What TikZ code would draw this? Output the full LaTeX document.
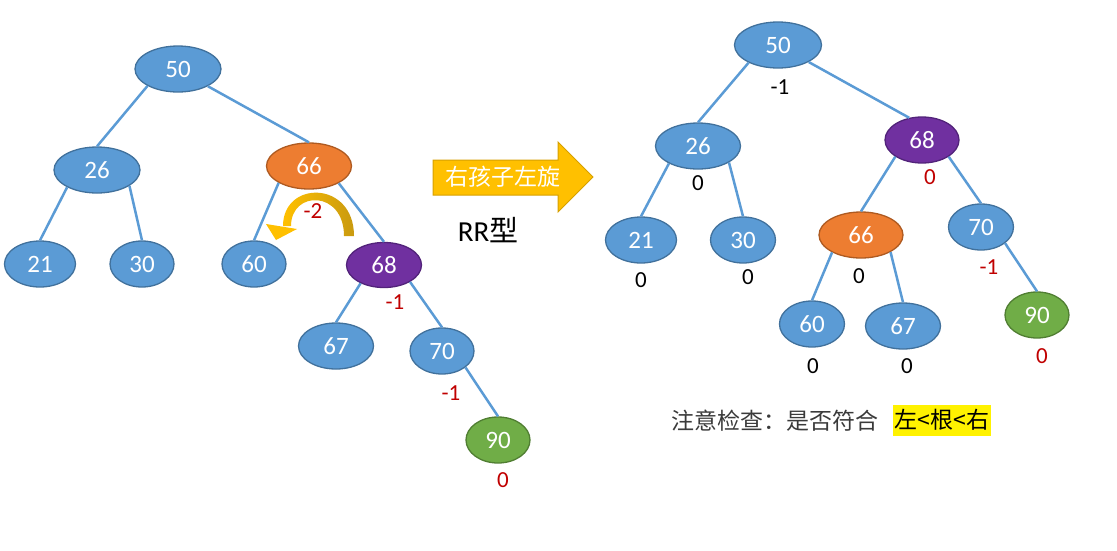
\documentclass[tikz,border=0pt]{standalone}
\usepackage{fontspec}
\setmainfont{Carlito}
\newfontfamily\cjk{Noto Sans CJK SC}
\usetikzlibrary{shapes.geometric,arrows.meta}
\definecolor{ndblue}{HTML}{5B9BD5}
\definecolor{ndblueb}{HTML}{41719C}
\definecolor{ndorange}{HTML}{ED7D31}
\definecolor{ndorangeb}{HTML}{AE5A21}
\definecolor{ndpurple}{HTML}{7030A0}
\definecolor{ndpurpleb}{HTML}{52237A}
\definecolor{ndgreen}{HTML}{70AD47}
\definecolor{ndgreenb}{HTML}{507E32}
\definecolor{bfred}{HTML}{C00000}
\definecolor{gold}{HTML}{FFC000}
\definecolor{goldb}{HTML}{D6A000}
\definecolor{golddark}{HTML}{C99A10}
\definecolor{txtgray}{HTML}{3A3A3A}
\tikzset{
  nd/.style={ellipse, draw=ndblueb, line width=1.3pt, fill=ndblue, text=white,
    font=\fontsize{25}{28}\selectfont, minimum height=46pt, inner sep=0pt},
  orangend/.style={nd, fill=ndorange, draw=ndorangeb},
  purplend/.style={nd, fill=ndpurple, draw=ndpurpleb},
  greennd/.style={nd, fill=ndgreen, draw=ndgreenb},
  edge/.style={draw=ndblue, line width=2.5pt},
  bf/.style={font=\fontsize{23}{26}\selectfont, inner sep=0pt, text=black},
  bfr/.style={bf, text=bfred},
}
\begin{document}
\begin{tikzpicture}[x=1pt,y=-1pt]
\useasboundingbox (0,0) rectangle (1117,550);

% ---------- left tree ----------
\node[nd, minimum width=86pt] (L50) at (178,69) {50};
\node[nd, minimum width=86pt] (L26) at (97,170) {26};
\node[orangend, minimum width=85pt] (L66) at (309,166) {66};
\node[nd, minimum width=71pt] (L21) at (40,264) {21};
\node[nd, minimum width=64pt] (L30) at (142,264) {30};
\node[nd, minimum width=64pt] (L60) at (254,264) {60};
\node[purplend, minimum width=75pt, minimum height=45pt] (L68) at (384,265) {68};
\node[nd, minimum width=75pt] (L67) at (336,346) {67};
\node[nd, minimum width=64pt] (L70) at (442,351) {70};
\node[greennd, minimum width=64pt] (L90) at (498,440) {90};

\draw[edge] (L50.209) -- (L26.north);
\draw[edge] (L50.330) -- (L66.north);
\draw[edge] (L26.210) -- (L21.north);
\draw[edge] (L26.334) -- (L30.north);
\draw[edge] (L66.209) -- (L60.north);
\draw[edge] (L66.330) -- (L68.north);
\draw[edge] (L68.218) -- (L67.north);
\draw[edge] (L68.327) -- (L70.north);
\draw[edge] (L70.325) -- (L90.north);

\node[bfr] (lb68) at (395,302) {-1};
\node[bfr] (lb70) at (451,393) {-1};
\node[bfr] (lb90) at (503,480) {0};

% curved rotation arrow (tapered band + head)
\shade[left color=gold, right color=golddark]
  (354,236) .. controls (354,180) and (283,180) .. (283,226)
  -- (291,226) .. controls (291,190) and (344,190) .. (344,236) -- cycle;
\fill[gold] (266,224) -- (297,229) -- (276,240) -- cycle;
\node[bfr] (lb66) at (313,211) {-2};

% ---------- big arrow ----------
\filldraw[fill=gold, draw=goldb, line width=1pt]
  (433,160) -- (558,160) -- (558,142) -- (593,177) -- (558,212) -- (558,195) -- (433,195) -- cycle;
\node[text=white, font=\cjk\fontsize{23}{26}\selectfont, inner sep=0pt] (rot) at (503,177) {右孩子左旋};
\node[text=black, font=\fontsize{29}{32}\selectfont, inner sep=0pt] (rr) at (488,230) {RR{\cjk 型}};

% ---------- right tree ----------
\node[nd, minimum width=87pt] (R50) at (778,45) {50};
\node[nd, minimum width=85pt] (R26) at (698,146) {26};
\node[purplend, minimum width=74pt] (R68) at (922,140) {68};
\node[nd, minimum width=71pt] (R21) at (641,240) {21};
\node[nd, minimum width=65pt] (R30) at (743,240) {30};
\node[orangend, minimum width=84pt] (R66) at (861,235) {66};
\node[nd, minimum width=65pt] (R70) at (981,227) {70};
\node[nd, minimum width=65pt] (R60) at (812,324) {60};
\node[nd, minimum width=75pt] (R67) at (903,326) {67};
\node[greennd, minimum width=64pt] (R90) at (1037,315) {90};

\draw[edge] (R50.211) -- (R26.north);
\draw[edge] (R50.331) -- (R68.120);
\draw[edge] (R26.211) -- (R21.north);
\draw[edge] (R26.332) -- (R30.north);
\draw[edge] (R68.212) -- (R66.north);
\draw[edge] (R68.328) -- (R70.north);
\draw[edge] (R66.211) -- (R60.north);
\draw[edge] (R66.330) -- (R67.north);
\draw[edge] (R70.326) -- (R90.north);

\node[bf] (rb50) at (780,87) {-1};
\node[bf] (rb26) at (698,183) {0};
\node[bfr] (rb68) at (930,177) {0};
\node[bf] (rb21) at (641,280) {0};
\node[bf] (rb30) at (748,277) {0};
\node[bf] (rb66) at (859,276) {0};
\node[bfr] (rb70) at (989,267) {-1};
\node[bf] (rb60) at (813,366) {0};
\node[bf] (rb67) at (907,366) {0};
\node[bfr] (rb90) at (1042,356) {0};

% ---------- note ----------
\node[anchor=west, inner sep=0pt, text=txtgray, font=\cjk\fontsize{23}{26}\selectfont] (note) at (671,421) {注意检查：是否符合};
\node[fill=yellow, inner sep=0pt, minimum width=98pt, minimum height=31pt,
  text=black, font=\cjk\fontsize{23}{26}\selectfont] (hl) at (942,420) {左<根<右};
\end{tikzpicture}
\end{document}
